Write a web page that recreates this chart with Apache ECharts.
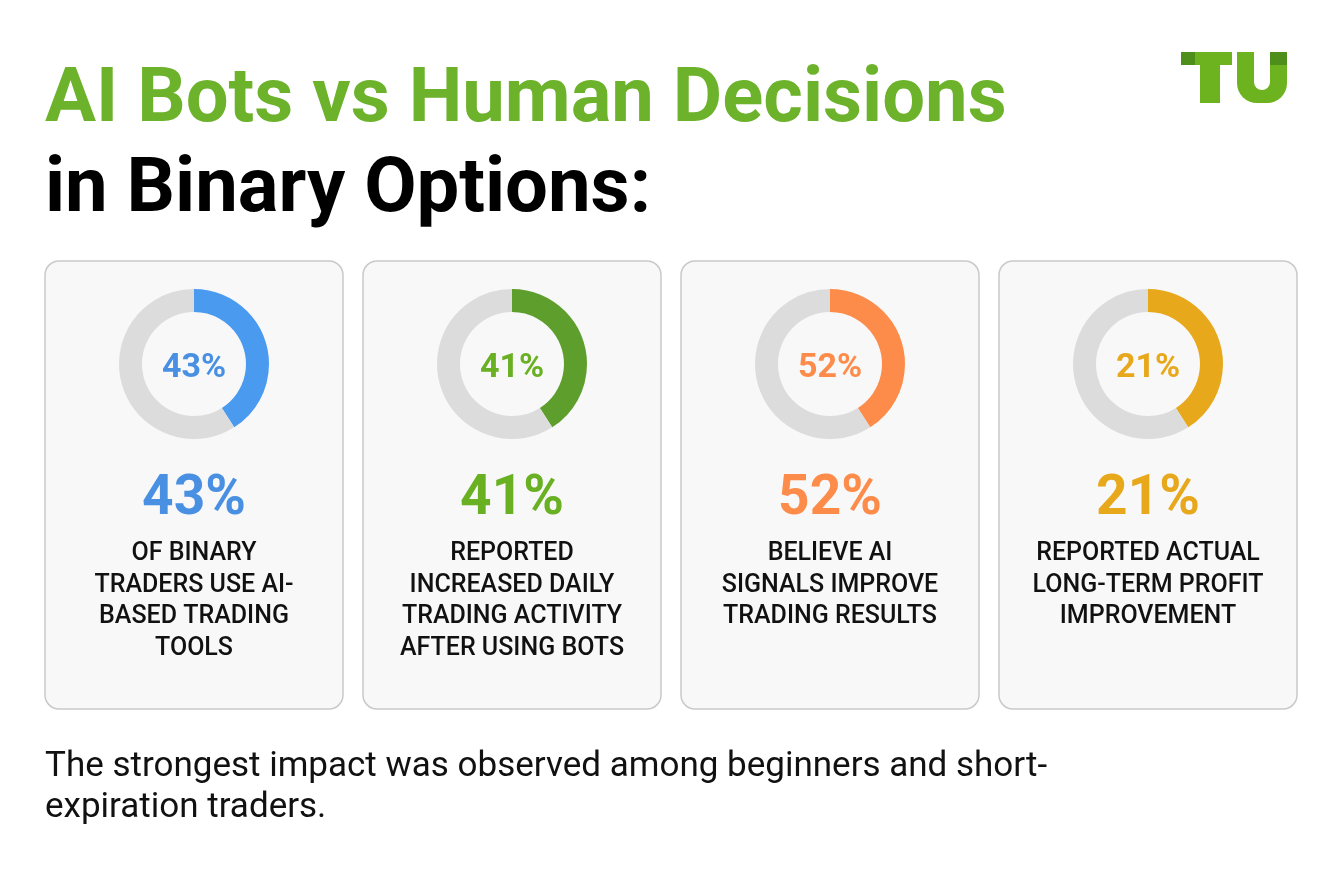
<!DOCTYPE html>
<html>
<head>
    <meta charset="utf-8" />
    <title>AI Bots vs Human Decisions</title>
    <script src="https://cdn.jsdelivr.net/npm/echarts@6/dist/echarts.min.js"></script>
    <style>
        html, body { margin: 0; padding: 0; background: #ffffff; overflow: hidden; }
        #main { width: 1340px; height: 880px; }
    </style>
</head>
<body>
    <div id="main"></div>
    <script type="text/javascript">
        // values
        var stats = [43, 41, 52, 21];
        var arcShown = [41, 41, 41, 41]; // every ring is drawn with the same arc in the source
        var captions = [
            ['OF BINARY', 'TRADERS USE AI-', 'BASED TRADING', 'TOOLS'],
            ['REPORTED', 'INCREASED DAILY', 'TRADING ACTIVITY', 'AFTER USING BOTS'],
            ['BELIEVE AI', 'SIGNALS IMPROVE', 'TRADING RESULTS'],
            ['REPORTED ACTUAL', 'LONG-TERM PROFIT', 'IMPROVEMENT']
        ];
        var ringColors = ['#4a9af0', '#5e9e2d', '#fd8c4b', '#e8a81c'];
        var textColors = ['#4a90e2', '#6ab023', '#fd8c4b', '#e8a81c'];
        var titleLines = ['AI Bots vs Human Decisions', 'in Binary Options:'];
        var footnote = ['The strongest impact was observed among beginners and short-', 'expiration traders.'];

        var FONT = 'Roboto, "Noto Sans", sans-serif';
        var cardW = 298, cardGap = 20, cardLeft = 45, cardTop = 261, cardH = 448;
        var ringY = 364;

        var chart = echarts.init(document.getElementById('main'), null, { renderer: 'canvas' });

        var graphics = [];
        var series = [];

        stats.forEach(function (v, i) {
            var x0 = cardLeft + i * (cardW + cardGap);
            var cx = x0 + cardW / 2;
            // card box
            graphics.push({
                type: 'rect',
                shape: { x: x0, y: cardTop, width: cardW, height: cardH, r: 14 },
                style: { fill: '#f8f8f8', stroke: '#c9c9c9', lineWidth: 1.5 },
                z: -1
            });
            // number inside the ring
            graphics.push({
                type: 'text',
                x: cx, y: ringY + 4,
                style: {
                    text: v + '%', fill: textColors[i],
                    font: 'bold 34px ' + FONT,
                    textAlign: 'center', textVerticalAlign: 'middle'
                }
            });
            // big number
            graphics.push({
                type: 'text',
                x: cx, y: 500,
                style: {
                    text: v + '%', fill: textColors[i],
                    font: 'bold 55px ' + FONT,
                    textAlign: 'center', textVerticalAlign: 'middle'
                }
            });
            // caption
            graphics.push({
                type: 'text',
                x: cx, y: 538,
                style: {
                    text: captions[i].join('\n'), fill: '#111111',
                    font: '500 25px ' + FONT, lineHeight: 31.5,
                    textAlign: 'center', textVerticalAlign: 'top'
                }
            });

            series.push({
                type: 'pie',
                silent: true,
                animation: false,
                center: [cx, ringY],
                radius: [52, 75],
                startAngle: 90,
                clockwise: true,
                label: { show: false },
                labelLine: { show: false },
                emphasis: { disabled: true },
                data: [
                    { value: arcShown[i], itemStyle: { color: ringColors[i] } },
                    { value: 100 - arcShown[i], itemStyle: { color: '#dcdcdc' } }
                ]
            });
        });

        // title
        graphics.push({
            type: 'text', x: 45, y: 102,
            style: { text: titleLines[0], fill: '#6cb22a', font: 'bold 76px ' + FONT, textVerticalAlign: 'middle' }
        });
        graphics.push({
            type: 'text', x: 45, y: 192,
            style: { text: titleLines[1], fill: '#000000', font: 'bold 76px ' + FONT, textVerticalAlign: 'middle' }
        });

        // footnote
        graphics.push({
            type: 'text', x: 45, y: 747,
            style: {
                text: footnote.join('\n'), fill: '#111111',
                font: '400 35px ' + FONT, lineHeight: 41,
                textVerticalAlign: 'top'
            }
        });

        // TU logo
        var lg = '#6db31f', dg = '#4e8f1b';
        graphics.push({ type: 'rect', shape: { x: 1181, y: 52, width: 14, height: 13 }, style: { fill: dg } });
        graphics.push({ type: 'rect', shape: { x: 1195, y: 52, width: 37, height: 13 }, style: { fill: lg } });
        graphics.push({ type: 'rect', shape: { x: 1200, y: 65, width: 20, height: 38 }, style: { fill: lg } });
        graphics.push({ type: 'rect', shape: { x: 1237, y: 52, width: 50, height: 51, r: [0, 0, 20, 20] }, style: { fill: lg } });
        graphics.push({ type: 'rect', shape: { x: 1254, y: 46, width: 16, height: 44, r: [0, 0, 8, 8] }, style: { fill: '#ffffff' } });
        graphics.push({ type: 'rect', shape: { x: 1270, y: 52, width: 17, height: 13 }, style: { fill: dg } });

        chart.setOption({
            backgroundColor: '#ffffff',
            animation: false,
            graphic: graphics,
            series: series
        });
    </script>
</body>
</html>
